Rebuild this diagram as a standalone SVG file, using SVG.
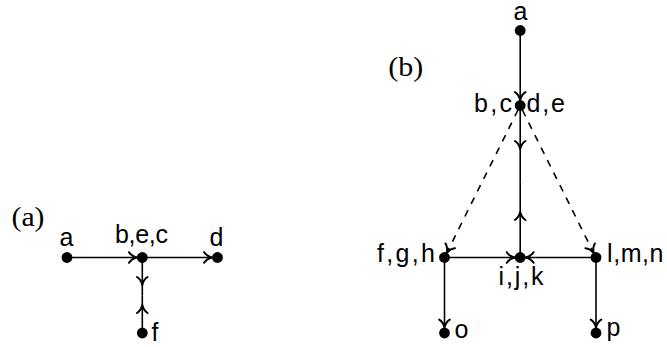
<svg xmlns="http://www.w3.org/2000/svg" width="667" height="347" viewBox="0 0 667 347">
<style>
  .edge { fill: none; stroke: #000; stroke-width: 1.6; }
  .dash { stroke-dasharray: 7 7; }
  .node circle { fill: #000; }
  .lbl { font-family: "Liberation Sans", Arial, sans-serif; font-size: 25px; fill: #000; }
  .cap { font-family: "Liberation Serif", "Times New Roman", serif; font-size: 28px; fill: #000; }
</style>
<defs>
  <marker id="arr" markerUnits="userSpaceOnUse" viewBox="-10 -7 12 14" markerWidth="12" markerHeight="14" refX="0" refY="0" orient="auto" overflow="visible">
    <path d="M-8,-5.3 C-6,-2.2 -2.2,-0.5 0,0 C-2.2,0.5 -6,2.2 -8,5.3" fill="none" stroke="#000" stroke-width="2" stroke-dasharray="none" stroke-linecap="round" stroke-linejoin="round"/>
  </marker>
</defs>

<text class="cap" x="11.5" y="226" textLength="33" lengthAdjust="spacingAndGlyphs">(a)</text>
<text class="cap" x="388.3" y="75.5" textLength="35" lengthAdjust="spacingAndGlyphs">(b)</text>

<g id="connectors">
  <!-- (a) -->
  <path class="edge" d="M67,257.5 L137,257.5" marker-end="url(#arr)"/>
  <path class="edge" d="M142.3,257.5 L212.1,257.5" marker-end="url(#arr)"/>
  <path class="edge" d="M142.3,257.5 L142.3,285 L142.3,295.2" marker-mid="url(#arr)"/>
  <path class="edge" d="M142.3,333 L142.3,305 L142.3,295.2" marker-mid="url(#arr)"/>
  <!-- (b) -->
  <path class="edge" d="M520.2,30.5 L520.2,100.1" marker-end="url(#arr)"/>
  <path class="edge" d="M520.2,105.5 L520.2,149 L520.2,181.5" marker-mid="url(#arr)"/>
  <path class="edge" d="M520.2,257.5 L520.2,212 L520.2,181.5" marker-mid="url(#arr)"/>
  <path class="edge dash" d="M518,110 L446.7,253" marker-end="url(#arr)"/>
  <path class="edge dash" d="M522.4,110 L593.7,253" marker-end="url(#arr)"/>
  <path class="edge" d="M444.5,257.5 L514.8,257.5" marker-end="url(#arr)"/>
  <path class="edge" d="M596,257.5 L525.6,257.5" marker-end="url(#arr)"/>
  <path class="edge" d="M444.5,257.5 L444.5,327.6" marker-end="url(#arr)"/>
  <path class="edge" d="M596,257.5 L596,327.6" marker-end="url(#arr)"/>
</g>

<!-- (a) nodes -->
<g id="a-a" class="node"><circle cx="67" cy="257.5" r="5.4"/><text class="lbl" x="66.5" y="246" text-anchor="middle">a</text></g>
<g id="a-bec" class="node"><circle cx="142.3" cy="257.5" r="5.4"/><text class="lbl" x="115" y="242.5" textLength="53" lengthAdjust="spacing">b,e,c</text></g>
<g id="a-d" class="node"><circle cx="217.5" cy="257.5" r="5.4"/><text class="lbl" x="216.5" y="246" text-anchor="middle">d</text></g>
<g id="a-f" class="node"><circle cx="142.3" cy="333" r="5.4"/><text class="lbl" x="151.5" y="341">f</text></g>

<!-- (b) nodes -->
<g id="b-a" class="node"><circle cx="520.2" cy="30.5" r="5.4"/><text class="lbl" x="520.5" y="20" text-anchor="middle">a</text></g>
<g id="b-bcde" class="node"><circle cx="520.2" cy="105.5" r="5.4"/><text class="lbl" x="474" y="112" textLength="38" lengthAdjust="spacing">b,c</text><text class="lbl" x="526.5" y="112" textLength="38.5" lengthAdjust="spacing">d,e</text></g>
<g id="b-fgh" class="node"><circle cx="444.5" cy="257.5" r="5.4"/><text class="lbl" x="377" y="262" textLength="58" lengthAdjust="spacing">f,g,h</text></g>
<g id="b-ijk" class="node"><circle cx="520.2" cy="257.5" r="5.4"/><text class="lbl" x="498.5" y="285" textLength="45" lengthAdjust="spacing">i,j,k</text></g>
<g id="b-lmn" class="node"><circle cx="596" cy="257.5" r="5.4"/><text class="lbl" x="607" y="262" textLength="56.5" lengthAdjust="spacing">l,m,n</text></g>
<g id="b-o" class="node"><circle cx="444.5" cy="333" r="5.4"/><text class="lbl" x="454.5" y="338.3">o</text></g>
<g id="b-p" class="node"><circle cx="596" cy="333" r="5.4"/><text class="lbl" x="606.5" y="336">p</text></g>
</svg>
